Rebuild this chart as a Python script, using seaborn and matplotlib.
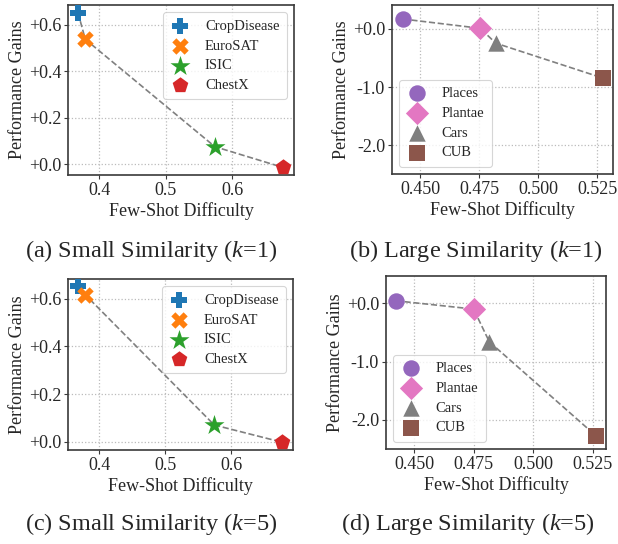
import matplotlib
matplotlib.use("Agg")
import matplotlib.pyplot as plt
import seaborn as sns
from matplotlib.ticker import FuncFormatter, FixedLocator

# ---------------- data ----------------
small_names = ["CropDisease", "EuroSAT", "ISIC", "ChestX"]
small_markers = ["P", "X", "*", "p"]
small_colors = ["#1f77b4", "#ff7f0e", "#2ca02c", "#d62728"]
small_diff = [0.368, 0.379, 0.574, 0.676]
small_gain_k1 = [0.653, 0.538, 0.075, -0.014]
small_gain_k5 = [0.652, 0.617, 0.070, -0.002]

large_names = ["Places", "Plantae", "Cars", "CUB"]
large_markers = ["o", "D", "^", "s"]
large_colors = ["#9467bd", "#e377c2", "#7f7f7f", "#8c564b"]
large_diff_k1 = [0.4425, 0.4754, 0.4820, 0.5275]
large_gain_k1 = [0.17, 0.01, -0.245, -0.845]
large_diff_k5 = [0.4423, 0.4750, 0.4816, 0.5263]
large_gain_k5 = [0.045, -0.098, -0.66, -2.27]

captions = [r"(a) Small Similarity ($k$=1)", r"(b) Large Similarity ($k$=1)",
            r"(c) Small Similarity ($k$=5)", r"(d) Large Similarity ($k$=5)"]

small_xticks = [0.4, 0.5, 0.6]
small_yticks = [0.0, 0.2, 0.4, 0.6]
large_xticks = [0.450, 0.475, 0.500, 0.525]
large_yticks = [-2.0, -1.0, 0.0]

# ---------------- style ----------------
sns.set_style("whitegrid")
plt.rcParams["font.family"] = ["Liberation Serif", "DejaVu Serif"]
plt.rcParams["mathtext.fontset"] = "custom"
plt.rcParams["mathtext.rm"] = "Liberation Serif"
plt.rcParams["mathtext.it"] = "Liberation Serif:italic"

fig = plt.figure(figsize=(6.18, 5.44), dpi=100)

def px_axes(left, top, right, bottom):
    W, H = 618.0, 544.0
    return fig.add_axes([left / W, 1 - bottom / H, (right - left) / W, (bottom - top) / H])

def signed(v, _pos=None):
    return ("+%.1f" % v) if v >= 0 else ("%.1f" % v).replace("\u2212", "-")

def draw(ax, xs, ys, names, markers, colors, xticks, yticks, xlim, ylim, xfmt, legend_loc):
    sns.lineplot(x=xs, y=ys, ax=ax, color="#808080", linestyle="--", linewidth=1.2,
                 sort=False, estimator=None, zorder=2)
    for x, y, n, m, c in zip(xs, ys, names, markers, colors):
        s = 230 if m == "*" else 140
        sns.scatterplot(x=[x], y=[y], ax=ax, marker=m, color=c, s=s, linewidth=0,
                        label=n, zorder=3)
    ax.set_xlim(*xlim)
    ax.set_ylim(*ylim)
    ax.xaxis.set_major_locator(FixedLocator(xticks))
    ax.yaxis.set_major_locator(FixedLocator(yticks))
    ax.xaxis.set_major_formatter(FuncFormatter(lambda v, p: xfmt % v))
    ax.yaxis.set_major_formatter(FuncFormatter(signed))
    ax.grid(True, linestyle=":", color="#bbbbbb", linewidth=0.9)
    for sp in ax.spines.values():
        sp.set_color("#3a3a3a")
        sp.set_linewidth(1.2)
    ax.tick_params(axis="both", labelsize=13, length=3, width=0.8, color="#3a3a3a",
                   pad=2, direction="out", bottom=True, left=True)
    ax.set_xlabel("Few-Shot Difficulty", fontsize=13, labelpad=2)
    ax.set_ylabel("Performance Gains", fontsize=13, labelpad=2)
    leg = ax.legend(loc=legend_loc, fontsize=10.5, frameon=True, borderpad=0.5,
                    handlelength=1.4, handletextpad=1.0, labelspacing=0.45,
                    borderaxespad=0.5)
    leg.get_frame().set_edgecolor("#cccccc")
    leg.get_frame().set_linewidth(0.8)

ax_a = px_axes(68, 5, 294, 175)
draw(ax_a, small_diff, small_gain_k1, small_names, small_markers, small_colors,
     small_xticks, small_yticks, (0.353, 0.693), (-0.047, 0.686), "%.1f", "upper right")

ax_b = px_axes(392, 5, 613, 174)
draw(ax_b, large_diff_k1, large_gain_k1, large_names, large_markers, large_colors,
     large_xticks, large_yticks, (0.438, 0.5317), (-2.49, 0.41), "%.3f", "lower left")

ax_c = px_axes(68, 279, 293, 450)
draw(ax_c, small_diff, small_gain_k5, small_names, small_markers, small_colors,
     small_xticks, small_yticks, (0.353, 0.693), (-0.035, 0.683), "%.1f", "upper right")

ax_d = px_axes(386, 276, 606, 449)
draw(ax_d, large_diff_k5, large_gain_k5, large_names, large_markers, large_colors,
     large_xticks, large_yticks, (0.4382, 0.5306), (-2.5, 0.47), "%.3f", "lower left")

cap_pos = [(151, 251), (476, 251), (151, 524), (468, 524)]
for (cx, cy), t in zip(cap_pos, captions):
    fig.text(cx / 618, 1 - cy / 544, t, ha="center", va="center", fontsize=17.5)

fig.savefig("out.png", dpi=100)
